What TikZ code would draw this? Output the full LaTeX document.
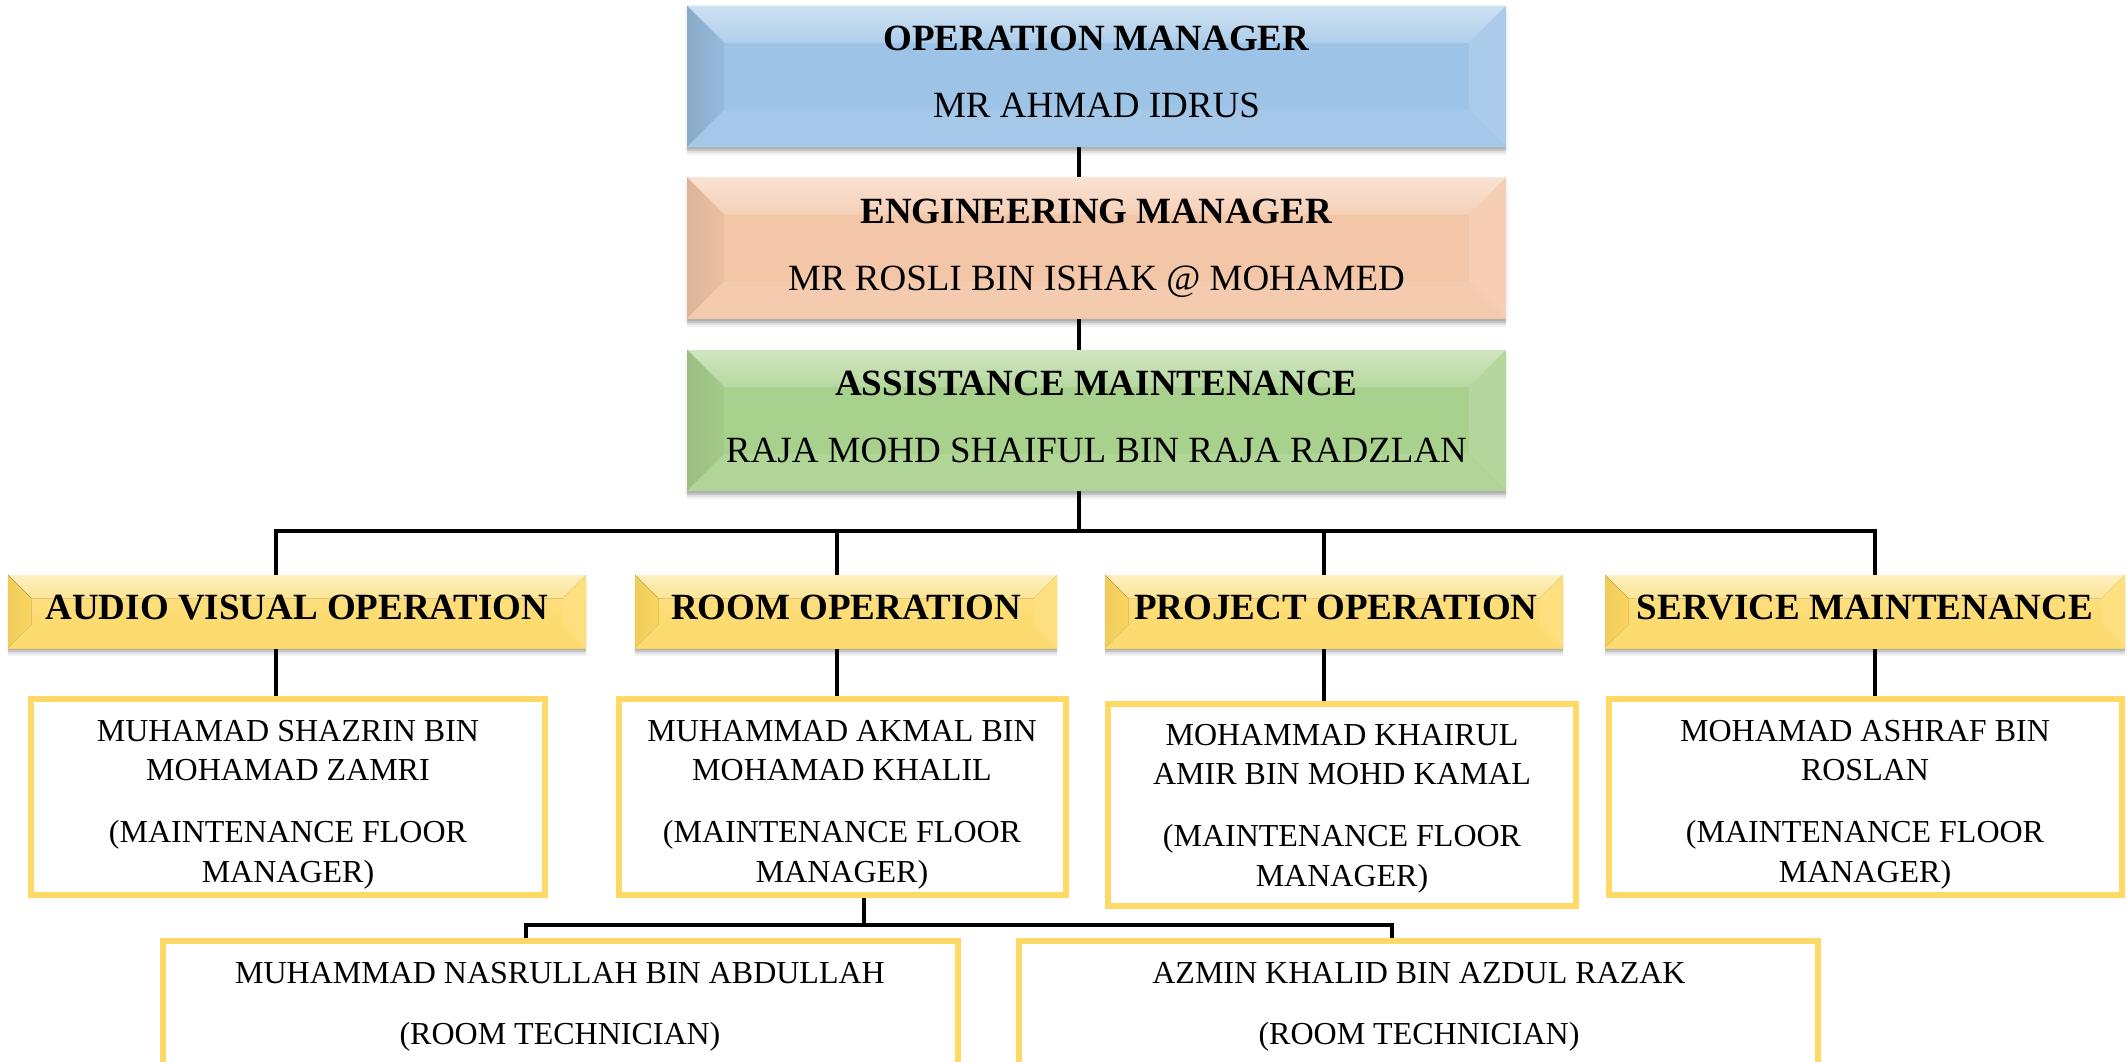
\documentclass[tikz,border=0pt]{standalone}
\usepackage{fontspec}
\setmainfont{Liberation Serif}
\usetikzlibrary{shadows,backgrounds}

% palette
\definecolor{blueface}{HTML}{9DC3E6}
\definecolor{orangeface}{HTML}{F3C6A7}
\definecolor{greenface}{HTML}{A9D18E}
\definecolor{goldface}{HTML}{FCD760}
\definecolor{goldframe}{HTML}{FFD966}

\newcommand\hdfont{\fontsize{37}{44}\selectfont}
\newcommand\bdfont{\fontsize{32}{39.5}\selectfont}

\tikzset{
  link/.style={line width=3.6pt, black, line join=miter},
  bevel/.style n args={5}{% top, left, right, bottom, width
    path picture={
      \path (path picture bounding box.north west) coordinate (bvA)
            (path picture bounding box.north east) coordinate (bvB)
            (path picture bounding box.south east) coordinate (bvC)
            (path picture bounding box.south west) coordinate (bvD);
      \fill[#1] (bvA) -- (bvB) -- ([shift={(-#5,#5)}]bvB) -- ([shift={(#5,#5)}]bvA) -- cycle;
      \fill[#2] (bvA) -- ([shift={(#5,#5)}]bvA) -- ([shift={(#5,-#5)}]bvD) -- (bvD) -- cycle;
      \fill[#3] (bvB) -- (bvC) -- ([shift={(-#5,-#5)}]bvC) -- ([shift={(-#5,#5)}]bvB) -- cycle;
      \fill[#4] (bvD) -- (bvC) -- ([shift={(-#5,-#5)}]bvC) -- ([shift={(#5,-#5)}]bvD) -- cycle;
    }
  },
  % soft drop shadow built from a few translucent layers
  shadowed/.style={
    general shadow={fill=black, fill opacity=0.10, shadow yshift=-2pt, shadow xshift=0pt},
    general shadow={fill=black, fill opacity=0.09, shadow yshift=-4pt, shadow xshift=0pt},
    general shadow={fill=black, fill opacity=0.07, shadow yshift=-6pt, shadow xshift=0pt},
    general shadow={fill=black, fill opacity=0.05, shadow yshift=-8pt, shadow xshift=0pt},
    general shadow={fill=black, fill opacity=0.04, shadow yshift=-4pt, shadow xshift=0pt,
                    shadow scale=1.004}},
  headbox/.style={rectangle, inner sep=0pt, minimum width=819pt,
      minimum height=141pt, shadowed},
  bluebox/.style={headbox, fill=blueface,
      bevel={top color=blueface!50!white, bottom color=blueface!82!white}%
            {left color=blueface!87!black, right color=blueface!96!black}%
            {fill=blueface!86!white}{fill=blueface!92!white}{37}},
  orangebox/.style={headbox, fill=orangeface,
      bevel={top color=orangeface!50!white, bottom color=orangeface!82!white}%
            {left color=orangeface!91!black, right color=orangeface!97!black}%
            {fill=orangeface!86!white}{fill=orangeface!92!white}{37}},
  greenbox/.style={headbox, fill=greenface,
      bevel={top color=greenface!55!white, bottom color=greenface!84!white}%
            {left color=greenface!91!black, right color=greenface!97!black}%
            {fill=greenface!86!white}{fill=greenface!92!white}{37}},
  unitbox/.style={rectangle, inner sep=0pt, minimum height=73pt, shadowed,
      top color=goldface!72!white, bottom color=goldface,
      bevel={top color=goldface!40!white, bottom color=goldface!65!white}%
            {left color=goldface!95!black, right color=goldface!99!black}%
            {fill=goldface!80!white}{fill=goldface!90!white}{23}},
  staffbox/.style={rectangle, inner sep=0pt, draw=goldframe,
      line width=6pt, fill=white},
  txt/.style={anchor=base, inner sep=0pt, text=black},
}

\begin{document}
\begin{tikzpicture}[x=1pt, y=-1pt]
\useasboundingbox (0,0) rectangle (2127,1062);
\begin{pgfonlayer}{background}
  \fill[white] (0,0) rectangle (2127,1062);
\end{pgfonlayer}

% management chain
\node[bluebox]   (om) at (1096.5, 76.5) {};
\node[orangebox] (em) at (1096.5,248.0) {};
\node[greenbox]  (am) at (1096.5,420.5) {};

\node[txt] (omt) at (1096.5,51) {\hdfont\begin{tabular}[t]{@{}c@{}}\textbf{OPERATION MANAGER}\\[23pt] MR AHMAD IDRUS\end{tabular}};
\node[txt] (emt) at (1096.5,223) {\hdfont\begin{tabular}[t]{@{}c@{}}\textbf{ENGINEERING MANAGER}\\[23pt] MR ROSLI BIN ISHAK @ MOHAMED\end{tabular}};
\node[txt] (amt) at (1096.5,395) {\hdfont\begin{tabular}[t]{@{}c@{}}\textbf{ASSISTANCE MAINTENANCE}\\[23pt] RAJA MOHD SHAIFUL BIN RAJA RADZLAN\end{tabular}};

% units
\node[unitbox, minimum width=578pt] (av) at (297,611.5) {};
\node[unitbox, minimum width=422pt] (ro) at (846,611.5) {};
\node[unitbox, minimum width=458pt] (po) at (1334,611.5) {};
\node[unitbox, minimum width=520pt] (sm) at (1865,611.5) {};

\node[txt] (avt) at (297,619)  {\hdfont\textbf{AUDIO VISUAL OPERATION}};
\node[txt] (rot) at (846,619)  {\hdfont\textbf{ROOM OPERATION}};
\node[txt] (pot) at (1336,619) {\hdfont\textbf{PROJECT OPERATION}};
\node[txt] (smt) at (1865,619) {\hdfont\textbf{SERVICE MAINTENANCE}};

% floor managers
\node[staffbox, minimum width=514pt, minimum height=196pt] (p1) at (288,797) {};
\node[staffbox, minimum width=447pt, minimum height=196pt] (p2) at (842.5,797) {};
\node[staffbox, minimum width=468pt, minimum height=202pt] (p3) at (1342,805) {};
\node[staffbox, minimum width=513pt, minimum height=196pt] (p4) at (1865.5,797) {};

\node[txt] (p1t) at (288,741) {\bdfont\begin{tabular}[t]{@{}c@{}}MUHAMAD SHAZRIN BIN\\ MOHAMAD ZAMRI\\[22.5pt] (MAINTENANCE FLOOR\\ MANAGER)\end{tabular}};
\node[txt] (p2t) at (842,741) {\bdfont\begin{tabular}[t]{@{}c@{}}MUHAMMAD AKMAL BIN\\ MOHAMAD KHALIL\\[22.5pt] (MAINTENANCE FLOOR\\ MANAGER)\end{tabular}};
\node[txt] (p3t) at (1342,745) {\bdfont\begin{tabular}[t]{@{}c@{}}MOHAMMAD KHAIRUL\\ AMIR BIN MOHD KAMAL\\[22.5pt] (MAINTENANCE FLOOR\\ MANAGER)\end{tabular}};
\node[txt] (p4t) at (1865,741) {\bdfont\begin{tabular}[t]{@{}c@{}}MOHAMAD ASHRAF BIN\\ ROSLAN\\[22.5pt] (MAINTENANCE FLOOR\\ MANAGER)\end{tabular}};

% room technicians
\node[staffbox, minimum width=795pt, minimum height=129pt] (t1) at (560.5,1005.5) {};
\node[staffbox, minimum width=799pt, minimum height=129pt] (t2) at (1418.5,1005.5) {};

\node[txt] (t1t) at (560,983)  {\bdfont\begin{tabular}[t]{@{}c@{}}MUHAMMAD NASRULLAH BIN ABDULLAH\\[21.5pt] (ROOM TECHNICIAN)\end{tabular}};
\node[txt] (t2t) at (1419,983) {\bdfont\begin{tabular}[t]{@{}c@{}}AZMIN KHALID BIN AZDUL RAZAK\\[21.5pt] (ROOM TECHNICIAN)\end{tabular}};

% junction points of the connectors
\coordinate (spine) at (1079,531);
\coordinate (jav) at (276,531);
\coordinate (jro) at (837,531);
\coordinate (jpo) at (1324,531);
\coordinate (jsm) at (1875,531);
\coordinate (jsub) at (864,925);
\coordinate (jt1) at (526,925);
\coordinate (jt2) at (1392,925);

\begin{pgfonlayer}{background}
  \draw[link] (spine |- om.south) -- (spine |- em.north);
  \draw[link] (spine |- em.south) -- (spine |- am.north);
  \draw[link] (spine |- am.south) -- (spine);
  \draw[link] (jav |- av.north) -- (jav) -- (jsm) -- (jsm |- sm.north);
  \draw[link] (jro) -- (jro |- ro.north);
  \draw[link] (jpo) -- (jpo |- po.north);
  \draw[link] (jav |- av.south) -- (jav |- p1.north);
  \draw[link] (jro |- ro.south) -- (jro |- p2.north);
  \draw[link] (jpo |- po.south) -- (jpo |- p3.north);
  \draw[link] (jsm |- sm.south) -- (jsm |- p4.north);
  \draw[link] (jsub |- p2.south) -- (jsub);
  \draw[link] (jt1 |- t1.north) -- (jt1) -- (jt2) -- (jt2 |- t2.north);
\end{pgfonlayer}
\end{tikzpicture}
\end{document}
